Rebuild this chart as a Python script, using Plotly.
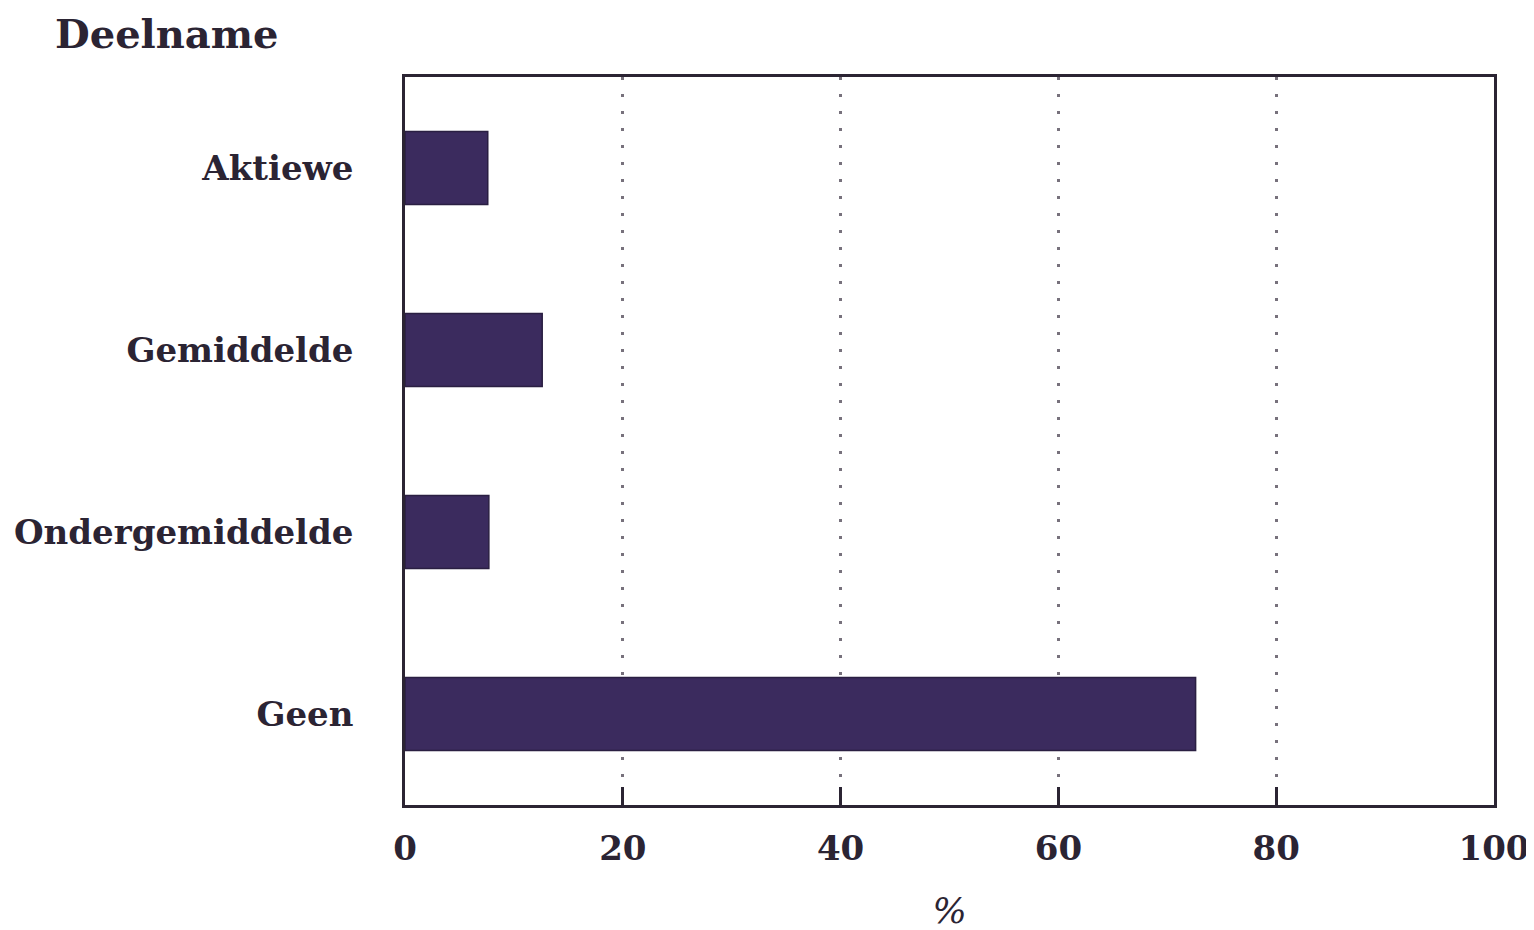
import plotly.graph_objects as go

categories = ["Aktiewe", "Gemiddelde", "Ondergemiddelde", "Geen"]
values = [7.6, 12.6, 7.7, 72.6]
tick_vals = [0, 20, 40, 60, 80, 100]
tick_text = ["0", "20", "40", "60", "80", "100"]

FONT = "DejaVu Serif"
DARK = "#2b2433"

W, H = 1534, 930
pl, pr, pt, pb = 397, 48, 69, 133
pw, ph = W - pl - pr, H - pt - pb

fig = go.Figure()
fig.add_trace(go.Bar(
    y=categories,
    x=values,
    orientation="h",
    width=0.4,
    marker=dict(color="#3b2b5e", line=dict(color="#2a1f42", width=1.5)),
))

fig.update_layout(
    width=W, height=H,
    paper_bgcolor="white", plot_bgcolor="white",
    margin=dict(l=pl, r=pr, t=pt, b=pb),
    showlegend=False,
    font=dict(family=FONT, color=DARK),
    annotations=[dict(
        text="<b>Deelname</b>",
        x=(45 - pl) / pw, y=(H - pb - 0) / ph,
        xref="paper", yref="paper", xanchor="left", yanchor="top",
        showarrow=False, font=dict(family=FONT, size=40, color=DARK),
    )],
)

fig.update_xaxes(
    range=[0, 100], tickvals=tick_vals, ticktext=[f"<b>{t}</b>" for t in tick_text],
    showgrid=True, gridcolor="#77717c", griddash="3px,14px", gridwidth=3,
    showline=True, linecolor=DARK, linewidth=2.5, mirror=True,
    ticks="inside", ticklen=18, tickwidth=3, tickcolor=DARK,
    tickfont=dict(family=FONT, size=34, color=DARK),
    ticklabelstandoff=11, automargin=False,
    title=dict(text="<i>%</i>", font=dict(family=FONT, size=36, color=DARK), standoff=32),
    zeroline=False,
)
fig.update_yaxes(
    categoryorder="array", categoryarray=categories, autorange="reversed",
    ticktext=[f"<b>{c}</b>" for c in categories], tickvals=categories,
    showline=True, linecolor=DARK, linewidth=2.5, mirror=True,
    ticks="", tickfont=dict(family=FONT, size=34, color=DARK),
    ticklabelstandoff=42, showgrid=False, automargin=False,
)

fig.write_html("out.html")
